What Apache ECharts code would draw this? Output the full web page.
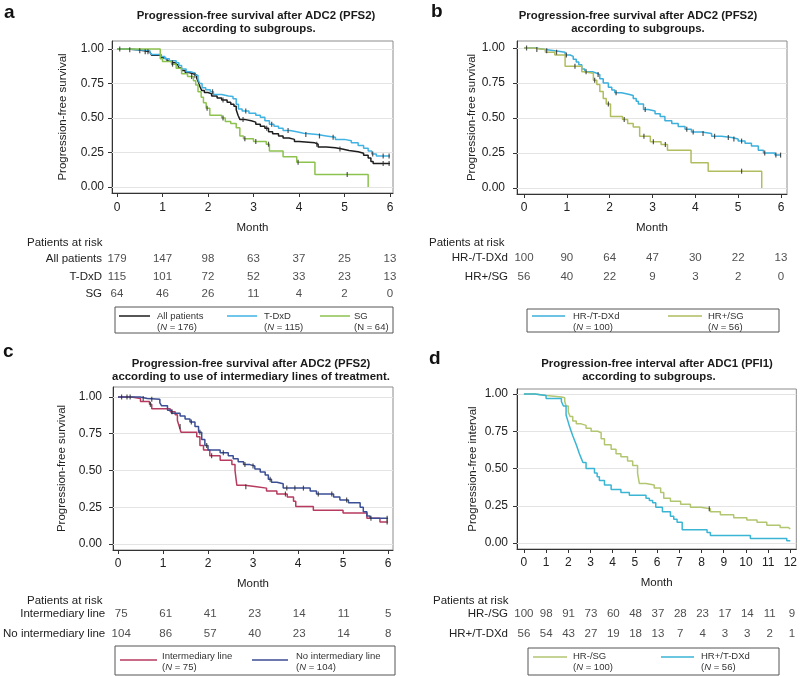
<!DOCTYPE html>
<html>
<head>
<meta charset="utf-8">
<script src="https://cdn.jsdelivr.net/npm/echarts@6/dist/echarts.min.js"></script>
<style>
  html, body { margin: 0; padding: 0; background: #fff; }
  #chart { width: 800px; height: 676px; }
</style>
</head>
<body>
<div id="chart"></div>
<script>
// ---------- data ----------
const yTicks = [0, 0.25, 0.5, 0.75, 1];
const months6 = [0, 1, 2, 3, 4, 5, 6];
const months12 = [0, 1, 2, 3, 4, 5, 6, 7, 8, 9, 10, 11, 12];

// panel a
const aAll = [[0,1],[0.22,0.994],[0.45,0.988],[0.6,0.98],[0.72,0.97],[0.76,0.955],[0.97,0.94],[1.0,0.93],[1.1,0.915],[1.2,0.9],[1.3,0.885],[1.35,0.865],[1.42,0.845],[1.5,0.83],[1.58,0.82],[1.68,0.81],[1.75,0.79],[1.79,0.76],[1.82,0.73],[1.86,0.7],[1.92,0.685],[2.0,0.675],[2.08,0.66],[2.2,0.645],[2.3,0.63],[2.42,0.615],[2.5,0.6],[2.57,0.585],[2.62,0.56],[2.66,0.52],[2.7,0.49],[2.8,0.48],[2.95,0.47],[3.05,0.455],[3.15,0.44],[3.25,0.425],[3.33,0.4],[3.42,0.385],[3.55,0.37],[3.65,0.355],[3.78,0.345],[3.9,0.33],[4.0,0.32],[4.35,0.31],[4.42,0.29],[4.6,0.285],[4.8,0.275],[4.95,0.265],[5.1,0.255],[5.3,0.245],[5.42,0.23],[5.52,0.21],[5.58,0.185],[5.63,0.17],[6.0,0.17]];
const aTdxd = [[0,1],[0.22,0.994],[0.45,0.99],[0.72,0.975],[0.76,0.96],[0.97,0.945],[1.05,0.93],[1.15,0.915],[1.3,0.9],[1.36,0.88],[1.42,0.855],[1.52,0.835],[1.62,0.825],[1.72,0.81],[1.78,0.78],[1.82,0.75],[1.87,0.72],[1.95,0.705],[2.05,0.69],[2.12,0.67],[2.3,0.66],[2.45,0.655],[2.55,0.64],[2.62,0.6],[2.67,0.565],[2.75,0.55],[2.9,0.535],[3.05,0.52],[3.15,0.505],[3.25,0.48],[3.35,0.455],[3.45,0.44],[3.55,0.425],[3.65,0.41],[3.8,0.4],[3.95,0.39],[4.1,0.38],[4.4,0.37],[4.6,0.36],[4.8,0.345],[5.0,0.335],[5.15,0.32],[5.3,0.3],[5.42,0.28],[5.52,0.26],[5.6,0.24],[5.7,0.225],[6.0,0.225]];
const aSg = [[0,1],[0.95,0.93],[1.0,0.91],[1.2,0.89],[1.3,0.86],[1.42,0.82],[1.55,0.8],[1.68,0.77],[1.73,0.74],[1.78,0.69],[1.85,0.65],[1.9,0.61],[1.96,0.57],[2.04,0.52],[2.3,0.5],[2.38,0.475],[2.5,0.46],[2.62,0.43],[2.7,0.37],[2.78,0.35],[3.0,0.33],[3.28,0.31],[3.35,0.26],[3.65,0.22],[3.95,0.18],[4.35,0.09],[5.52,0]];
const aAllCens = [[0.06,1],[0.28,0.994],[0.5,0.988],[0.62,0.98],[0.68,0.98],[1.22,0.9],[1.71,0.81],[2.33,0.63],[2.77,0.49],[3.29,0.425],[4.39,0.31],[4.9,0.275],[5.85,0.17],[5.98,0.17]];
const aTdxdCens = [[2.1,0.69],[2.83,0.55],[3.4,0.455],[3.76,0.41],[4.15,0.38],[4.45,0.37],[4.75,0.36],[5.62,0.24],[5.85,0.225],[5.98,0.225]];
const aSgCens = [[1.22,0.89],[1.64,0.8],[1.98,0.57],[2.33,0.5],[2.81,0.35],[3.05,0.33],[3.33,0.31],[3.98,0.18],[5.06,0.09]];
const aRows = ['All patients', 'T-DxD', 'SG'];
const aRisk = [[179,147,98,63,37,25,13],[115,101,72,52,33,23,13],[64,46,26,11,4,2,0]];

// panel b
const bTdxd = [[0,1],[0.26,0.99],[0.49,0.98],[0.72,0.97],[0.96,0.95],[1.08,0.94],[1.15,0.92],[1.22,0.9],[1.28,0.88],[1.35,0.85],[1.42,0.83],[1.6,0.82],[1.7,0.81],[1.77,0.78],[1.85,0.75],[1.97,0.72],[2.05,0.7],[2.12,0.68],[2.28,0.67],[2.44,0.66],[2.55,0.64],[2.62,0.62],[2.67,0.6],[2.79,0.56],[2.9,0.55],[3.06,0.53],[3.18,0.51],[3.29,0.48],[3.45,0.46],[3.6,0.44],[3.76,0.42],[3.91,0.4],[4.15,0.39],[4.38,0.37],[4.61,0.36],[4.85,0.35],[5.0,0.335],[5.16,0.32],[5.31,0.3],[5.47,0.27],[5.59,0.25],[5.86,0.235],[6.0,0.235]];
const bSg = [[0,1],[0.2,0.99],[0.5,0.97],[0.72,0.95],[0.96,0.87],[1.35,0.83],[1.4,0.82],[1.62,0.77],[1.7,0.74],[1.77,0.69],[1.85,0.64],[1.92,0.6],[2.02,0.51],[2.3,0.49],[2.42,0.46],[2.55,0.435],[2.7,0.37],[2.95,0.33],[3.2,0.31],[3.35,0.27],[3.9,0.18],[4.3,0.12],[5.55,0]];
const bTdxdCens = [[0.06,1],[0.3,0.99],[0.53,0.98],[0.76,0.97],[0.99,0.95],[1.45,0.83],[1.73,0.81],[2.15,0.68],[2.83,0.56],[3.8,0.42],[3.95,0.4],[4.18,0.39],[4.45,0.37],[4.77,0.36],[4.9,0.35],[5.08,0.335],[5.62,0.25],[5.88,0.235],[5.99,0.235]];
const bSgCens = [[1.19,0.87],[1.65,0.77],[1.97,0.6],[2.34,0.49],[2.8,0.37],[3.02,0.33],[3.3,0.31],[5.08,0.12]];
const bRows = ['HR-/T-DXd', 'HR+/SG'];
const bRisk = [[100,90,64,47,30,22,13],[56,40,22,9,3,2,0]];

// panel c
const cInter = [[0,1],[0.3,0.99],[0.5,0.97],[0.7,0.95],[0.75,0.92],[1.16,0.9],[1.27,0.88],[1.32,0.84],[1.36,0.8],[1.4,0.76],[1.75,0.73],[1.82,0.67],[1.9,0.64],[2.04,0.6],[2.27,0.57],[2.53,0.54],[2.6,0.5],[2.64,0.4],[2.82,0.39],[3.08,0.38],[3.3,0.36],[3.53,0.34],[3.76,0.32],[3.9,0.29],[3.95,0.255],[4.34,0.23],[5.0,0.21],[5.53,0.175],[5.82,0.15],[6.0,0.15]];
const cNoInter = [[0,1],[0.49,0.99],[0.65,0.985],[0.93,0.96],[0.97,0.94],[1.1,0.91],[1.19,0.89],[1.38,0.87],[1.49,0.85],[1.6,0.83],[1.71,0.8],[1.79,0.76],[1.86,0.71],[1.93,0.67],[2.0,0.64],[2.27,0.62],[2.45,0.6],[2.56,0.58],[2.67,0.56],[2.79,0.54],[2.93,0.53],[3.04,0.51],[3.16,0.49],[3.27,0.47],[3.34,0.44],[3.41,0.42],[3.53,0.41],[3.67,0.38],[4.27,0.36],[4.41,0.34],[4.79,0.32],[4.93,0.3],[5.12,0.28],[5.38,0.25],[5.45,0.22],[5.53,0.19],[5.6,0.175],[6.0,0.175]];
const cInterCens = [[0.27,1],[0.72,0.95],[1.2,0.9],[1.38,0.8],[2.08,0.6],[2.84,0.39],[3.72,0.34],[5.98,0.15]];
const cNoInterCens = [[0.08,1],[0.2,1],[0.56,0.99],[0.75,0.985],[1.63,0.83],[1.82,0.76],[1.97,0.67],[2.34,0.62],[2.82,0.54],[3.0,0.53],[3.38,0.44],[3.75,0.38],[3.93,0.38],[4.12,0.38],[4.45,0.34],[4.75,0.34],[5.08,0.3],[5.62,0.175],[5.98,0.175]];
const cRows = ['Intermediary line', 'No intermediary line'];
const cRisk = [[75,61,41,23,14,11,5],[104,86,57,40,23,14,8]];

// panel d
const dSg = [[0,1],[0.5,0.99],[1.0,0.98],[1.7,0.975],[1.84,0.95],[1.9,0.92],[2.0,0.88],[2.08,0.85],[2.2,0.82],[2.36,0.8],[2.58,0.79],[2.8,0.77],[3.03,0.75],[3.33,0.74],[3.48,0.7],[3.63,0.66],[3.93,0.63],[4.15,0.6],[4.37,0.58],[4.67,0.55],[4.9,0.52],[5.12,0.47],[5.2,0.4],[5.5,0.39],[5.87,0.37],[6.16,0.34],[6.3,0.3],[6.6,0.28],[7.06,0.26],[7.5,0.24],[7.96,0.23],[8.4,0.21],[8.85,0.19],[9.45,0.17],[10.04,0.155],[10.5,0.14],[10.94,0.12],[11.54,0.105],[11.9,0.095],[12.0,0.095]];
const dTdxd = [[0,1],[0.5,0.99],[1.0,0.97],[1.69,0.95],[1.78,0.92],[1.9,0.86],[1.98,0.82],[2.06,0.78],[2.13,0.75],[2.2,0.72],[2.28,0.69],[2.36,0.66],[2.43,0.63],[2.5,0.6],[2.58,0.57],[2.66,0.54],[2.8,0.5],[3.18,0.47],[3.3,0.445],[3.4,0.42],[3.63,0.39],[3.93,0.36],[4.37,0.34],[4.75,0.32],[5.5,0.3],[5.65,0.285],[5.8,0.27],[5.94,0.24],[6.24,0.21],[6.6,0.18],[6.75,0.16],[6.9,0.14],[7.13,0.09],[8.25,0.07],[8.4,0.05],[10.2,0.03],[11.84,0.015],[12.0,0.015]];
const dSgCens = [[8.35,0.23]];
const dRows = ['HR-/SG', 'HR+/T-DXd'];
const dRisk = [[100,98,91,73,60,48,37,28,23,17,14,11,9],[56,54,43,27,19,18,13,7,4,3,3,2,1]];

// ---------- build ----------
const FONT = '"Liberation Sans", Arial, Helvetica, sans-serif';
const INK = '#222';
const grids = [], xAxes = [], yAxes = [], series = [], graphics = [];

function addPanel(p) {
  const gi = grids.length;
  grids.push({ left: p.plot[0], top: p.plot[1], width: p.plot[2], height: p.plot[3],
    show: true, borderColor: '#8c8c8c', borderWidth: 1, backgroundColor: '#fff' });
  grids.push({ left: p.risk[0], top: p.risk[1], width: p.risk[2], height: p.risk[3] });

  // survival plot axes
  xAxes.push({
    gridIndex: gi, type: 'value', min: p.xRange[0], max: p.xRange[1],
    name: 'Month', nameLocation: 'middle', nameGap: p.monthGap,
    nameTextStyle: { fontSize: 11.5, color: INK },
    axisLine: { show: true, onZero: false, lineStyle: { color: '#333' } },
    axisTick: { show: true, customValues: p.ticks, length: 4, lineStyle: { color: '#333' } },
    axisLabel: { customValues: p.ticks, fontSize: 12, color: INK, margin: p.xLabelMargin },
    splitLine: { show: false }
  });
  yAxes.push({
    gridIndex: gi, type: 'value', min: p.yRange[0], max: p.yRange[1],
    name: p.yName, nameLocation: 'middle', nameGap: p.yNameGap,
    nameTextStyle: { fontSize: 11.5, color: INK },
    axisLine: { show: true, onZero: false, lineStyle: { color: '#333' } },
    axisTick: { show: true, customValues: yTicks, length: 4, lineStyle: { color: '#333' } },
    axisLabel: { customValues: yTicks, fontSize: 12, color: INK, margin: p.yLabelMargin,
      formatter: v => v.toFixed(2) },
    splitLine: { show: false }
  });
  // risk table axes
  xAxes.push({ gridIndex: gi + 1, type: 'value', min: p.xRange[0], max: p.xRange[1], show: false });
  yAxes.push({
    gridIndex: gi + 1, type: 'category', inverse: true, data: p.rows,
    axisLine: { show: false }, axisTick: { show: false }, splitLine: { show: false },
    axisLabel: { fontSize: 11.5, color: INK, margin: p.rowMargin }
  });

  p.curves.forEach((c, k) => {
    const s = {
      type: 'line', name: c.name, xAxisIndex: gi, yAxisIndex: gi, data: c.data,
      step: 'end', showSymbol: false, lineStyle: { color: c.color, width: 1.5 },
      itemStyle: { color: c.color }, z: 3 + k, silent: true
    };
    if (k === 0) {
      s.markLine = {
        silent: true, z: 1, symbol: ['none', 'none'], label: { show: false },
        lineStyle: { color: '#e4e4e4', type: 'solid', width: 1 },
        data: yTicks.map(v => ({ yAxis: v }))
      };
    }
    series.push(s);
    if (c.censor) {
      series.push({
        type: 'scatter', xAxisIndex: gi, yAxisIndex: gi, data: c.censor, silent: true,
        symbol: 'rect', symbolSize: [1.2, 5], itemStyle: { color: '#2a2a2a' }, z: 10
      });
    }
  });

  const riskData = [];
  p.rows.forEach((r, i) => p.riskCounts[i].forEach((n, j) => riskData.push([p.ticks[j], r, n])));
  series.push({
    type: 'scatter', xAxisIndex: gi + 1, yAxisIndex: gi + 1, data: riskData, silent: true,
    symbolSize: 1, itemStyle: { color: 'rgba(0,0,0,0)' },
    label: { show: true, position: 'inside', formatter: q => q.value[2], fontSize: 11.5, color: INK }
  });

  // title lines + panel letter + "Patients at risk"
  p.title.forEach(t => graphics.push({
    type: 'text', x: t[0], y: t[1],
    style: { text: t[2], font: 'bold 11.4px ' + FONT, fill: '#1a1a1a',
      textAlign: 'center', textVerticalAlign: 'middle', align: 'center', verticalAlign: 'middle' }
  }));
  graphics.push({
    type: 'text', x: p.letter[0], y: p.letter[1],
    style: { text: p.letter[2], font: 'bold 19px ' + FONT, fill: '#111',
      textVerticalAlign: 'middle', verticalAlign: 'middle' }
  }, {
    type: 'text', x: p.atRisk[0], y: p.atRisk[1],
    style: { text: 'Patients at risk', font: '11.5px ' + FONT, fill: INK,
      textVerticalAlign: 'middle', verticalAlign: 'middle' }
  });

  // legend box
  const L = p.legend;
  graphics.push({ type: 'rect', shape: { x: L.box[0], y: L.box[1], width: L.box[2], height: L.box[3] },
    style: { fill: '#fff', stroke: '#555', lineWidth: 1 } });
  L.items.forEach((it, k) => {
    const c = p.curves[k];
    graphics.push({ type: 'line', shape: { x1: it[0], y1: L.lineY, x2: it[1], y2: L.lineY },
      style: { stroke: c.color, lineWidth: 1.5 } });
    graphics.push({ type: 'text', x: it[2], y: L.textY,
      style: { text: '{a|' + c.name + '}\n{a|(}{' + (it[4] ? 'a' : 'i') + '|N}{a| = ' + it[3] + ')}',
        verticalAlign: 'top', textVerticalAlign: 'top',
        rich: { a: { fontSize: 9.5, fontFamily: FONT, fill: '#333', color: '#333', lineHeight: 11 },
                i: { fontSize: 9.5, fontFamily: FONT, fontStyle: 'italic', fill: '#333', color: '#333', lineHeight: 11 } } } });
  });
}

addPanel({
  plot: [112, 41, 281, 152], risk: [112, 250.5, 281, 52.5],
  xRange: [-0.11, 6.066], yRange: [-0.0435, 1.058], ticks: months6,
  monthGap: 29, xLabelMargin: 9, yLabelMargin: 8, yNameGap: 43, rowMargin: 10,
  yName: 'Progression-free survival', rows: aRows, riskCounts: aRisk,
  curves: [
    { name: 'All patients', color: '#1e1e1e', data: aAll, censor: aAllCens },
    { name: 'T-DxD', color: '#41b3e3', data: aTdxd, censor: aTdxdCens },
    { name: 'SG', color: '#8dc24f', data: aSg, censor: aSgCens }
  ],
  title: [[256, 16, 'Progression-free survival after ADC2 (PFS2)'], [249, 29, 'according to subgroups.']],
  letter: [4, 13, 'a'], atRisk: [27, 243],
  legend: { box: [115, 307, 278, 26], lineY: 316, textY: 310.5,
    items: [[119, 150, 157, 176], [227, 257, 264, 115], [320, 350, 354, 64, true]] }
});

addPanel({
  plot: [517, 41, 270, 153], risk: [517, 248.5, 270, 38],
  xRange: [-0.163, 6.14], yRange: [-0.043, 1.05], ticks: months6,
  monthGap: 28, xLabelMargin: 8, yLabelMargin: 12, yNameGap: 39, rowMargin: 9,
  yName: 'Progression-free survival', rows: bRows, riskCounts: bRisk,
  curves: [
    { name: 'HR-/T-DXd', color: '#3cafdb', data: bTdxd, censor: bTdxdCens },
    { name: 'HR+/SG', color: '#b1bd5f', data: bSg, censor: bSgCens }
  ],
  title: [[638, 16, 'Progression-free survival after ADC2 (PFS2)'], [638, 29, 'according to subgroups.']],
  letter: [431, 12, 'b'], atRisk: [429, 243],
  legend: { box: [527, 309, 252, 23], lineY: 316, textY: 310.5,
    items: [[532, 565, 573, 100], [668, 702, 708, 56]] }
});

addPanel({
  plot: [113, 387, 280, 163], risk: [113, 604, 280, 40],
  xRange: [-0.111, 6.11], yRange: [-0.041, 1.068], ticks: months6,
  monthGap: 28, xLabelMargin: 8, yLabelMargin: 11, yNameGap: 45, rowMargin: 11,
  yName: 'Progression-free survival', rows: cRows, riskCounts: cRisk,
  curves: [
    { name: 'Intermediary line', color: '#b73a5f', data: cInter, censor: cInterCens },
    { name: 'No intermediary line', color: '#3a4d95', data: cNoInter, censor: cNoInterCens }
  ],
  title: [[251, 364, 'Progression-free survival after ADC2 (PFS2)'], [251, 377, 'according to use of intermediary lines of treatment.']],
  letter: [3, 352, 'c'], atRisk: [27, 601],
  legend: { box: [115, 646, 280, 29], lineY: 660, textY: 650.5,
    items: [[120, 157, 162, 75], [252, 288, 296, 104]] }
});

addPanel({
  plot: [517, 389, 281, 160], risk: [517, 604, 281, 40],
  xRange: [-0.31, 12.27], yRange: [-0.04, 1.034], ticks: months12,
  monthGap: 28, xLabelMargin: 8, yLabelMargin: 9, yNameGap: 38, rowMargin: 9,
  yName: 'Progression-free interval', rows: dRows, riskCounts: dRisk,
  curves: [
    { name: 'HR-/SG', color: '#b2c670', data: dSg, censor: dSgCens },
    { name: 'HR+/T-DXd', color: '#3ab5d4', data: dTdxd }
  ],
  title: [[657, 364, 'Progression-free interval after ADC1 (PFI1)'], [649, 377, 'according to subgroups.']],
  letter: [429, 359, 'd'], atRisk: [433, 601],
  legend: { box: [528, 648, 251, 27], lineY: 657, textY: 650.5,
    items: [[533, 567, 573, 100], [661, 694, 701, 56]] }
});

const chart = echarts.init(document.getElementById('chart'), null, { renderer: 'canvas' });
chart.setOption({
  animation: false,
  backgroundColor: '#fff',
  textStyle: { fontFamily: FONT },
  grid: grids,
  xAxis: xAxes,
  yAxis: yAxes,
  series: series,
  graphic: { elements: graphics }
});
</script>
</body>
</html>
